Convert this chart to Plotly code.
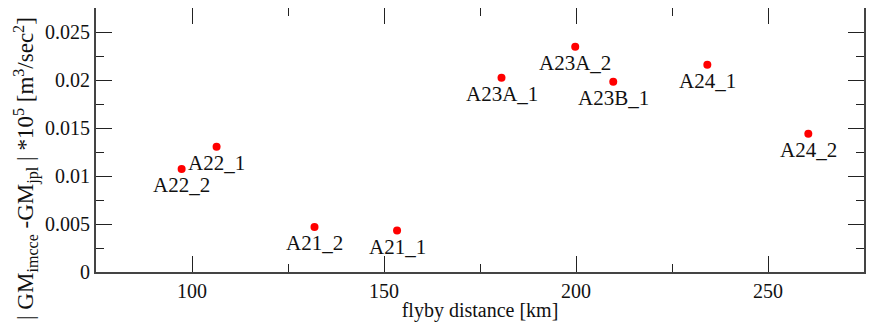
import plotly.graph_objects as go

flyby_km = [97.3, 106.4, 131.9, 153.4, 180.6, 199.8, 209.7, 234.2, 260.5]
gm_diff = [0.01074, 0.01304, 0.00469, 0.00431, 0.02023, 0.02347, 0.01982, 0.02159, 0.01439]
labels = ["A22_2", "A22_1", "A21_2", "A21_1", "A23A_1", "A23A_2", "A23B_1", "A24_1", "A24_2"]

x_ticks = [100, 150, 200, 250]
y_ticks = [0, 0.005, 0.01, 0.015, 0.02, 0.025]
y_ticklabels = ["0", "0.005", "0.01", "0.015", "0.02", "0.025"]
y_title = "| GM<sub>imcce</sub> -GM<sub>jpl</sub> | *10<sup>5</sup> [m<sup>3</sup>/sec<sup>2</sup>]"

FONT = "Liberation Serif, Times New Roman, serif"

fig = go.Figure()
fig.add_trace(go.Scatter(
    x=flyby_km, y=gm_diff, mode="markers",
    marker=dict(color="#ff0000", size=8, line=dict(width=0)),
    hoverinfo="skip", showlegend=False,
))

for xv, yv, t in zip(flyby_km, gm_diff, labels):
    fig.add_annotation(x=xv, y=yv, text=t, showarrow=False, xref="x", yref="y",
                       xanchor="center", yanchor="middle", yshift=-16,
                       font=dict(family=FONT, size=21, color="#111"))

# rotated y-axis title (as in the reference, it runs off the top edge)
fig.add_annotation(x=-0.092, y=-0.19, xref="paper", yref="paper", text=y_title,
                   textangle=-90, showarrow=False, xanchor="center", yanchor="bottom",
                   font=dict(family=FONT, size=23, color="#111"))

axis_common = dict(
    showline=True, linecolor="#444", linewidth=2, mirror="ticks",
    ticks="inside", ticklen=16, tickwidth=1.3, tickcolor="#222",
    showgrid=False, zeroline=False, automargin=False,
    tickfont=dict(family=FONT, size=20, color="#111"),
)

fig.update_xaxes(
    range=[75, 275], tickvals=x_ticks,
    minor=dict(dtick=25, ticks="inside", ticklen=8, tickwidth=1.3, tickcolor="#222", showgrid=False),
    title=dict(text="flyby distance [km]", font=dict(family=FONT, size=20, color="#111"), standoff=2),
    **axis_common,
)
fig.update_yaxes(
    range=[0, 0.0275], tickvals=y_ticks, ticktext=y_ticklabels,
    minor=dict(dtick=0.0025, ticks="inside", ticklen=8, tickwidth=1.3, tickcolor="#222", showgrid=False),
    **axis_common,
)

# page body has an 8px default margin, so the figure is sized to fit the window
fig.update_layout(
    width=867, height=323,
    margin=dict(l=88, r=11, t=0, b=59),
    paper_bgcolor="white", plot_bgcolor="white",
)

fig.write_html("out.html")
